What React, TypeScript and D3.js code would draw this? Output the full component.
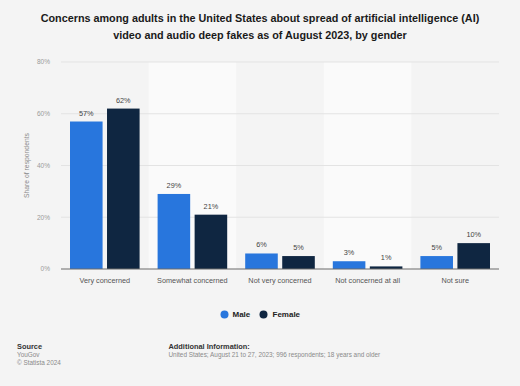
import React from "react"
import * as d3 from "d3"

const W = 520
const H = 386
const MARGIN = { top: 62, right: 21, bottom: 117, left: 61 }

const categories = [
    "Very concerned",
    "Somewhat concerned",
    "Not very concerned",
    "Not concerned at all",
    "Not sure",
]
const series = ["Male", "Female"]
const maleValues = [57, 29, 6, 3, 5]
const femaleValues = [62, 21, 5, 1, 10]
const yTicks = [0, 20, 40, 60, 80]
const colors = ["#2876dd", "#0f2641"]

const FONT = "'Liberation Sans', Arial, sans-serif"

export default function App() {
    const boundsWidth = W - MARGIN.left - MARGIN.right
    const boundsHeight = H - MARGIN.top - MARGIN.bottom

    const xScale = d3
        .scaleBand()
        .domain(categories)
        .range([0, boundsWidth])
        .paddingInner(0)
        .paddingOuter(0)
    const inner = d3
        .scaleBand()
        .domain(series)
        .range([9, xScale.bandwidth() - 9])
        .paddingInner(0.12)
    const yScale = d3.scaleLinear().domain([0, 80]).range([boundsHeight, 0])

    const values = [maleValues, femaleValues]

    return (
        <svg
            width={W}
            height={H}
            style={{ position: "absolute", left: 0, top: 0, background: "#f4f4f4" }}
            fontFamily={FONT}
        >
            <rect width={W} height={H} fill="#f4f4f4" />
            <text x={W / 2} y={21.5} textAnchor="middle" fontSize={10.8} fontWeight="bold" fill="#1a1a1a">
                Concerns among adults in the United States about spread of artificial intelligence (AI)
            </text>
            <text x={W / 2} y={38.5} textAnchor="middle" fontSize={10.8} fontWeight="bold" fill="#1a1a1a">
                video and audio deep fakes as of August 2023, by gender
            </text>

            <g transform={`translate(${MARGIN.left},${MARGIN.top})`}>
                {categories.map((c, i) =>
                    i % 2 === 1 ? (
                        <rect
                            key={c}
                            x={xScale(c)}
                            y={0}
                            width={xScale.bandwidth()}
                            height={boundsHeight}
                            fill="#fafafa"
                        />
                    ) : null
                )}
                {yTicks.map((t) => (
                    <g key={t}>
                        {t > 0 && (
                            <line
                                x1={0}
                                x2={boundsWidth}
                                y1={yScale(t)}
                                y2={yScale(t)}
                                stroke="#e3e3e3"
                                strokeWidth={1}
                            />
                        )}
                        <text
                            x={-11}
                            y={yScale(t)}
                            dy="0.35em"
                            textAnchor="end"
                            fontSize={6.5}
                            fill="#9a9a9a"
                        >
                            {t}%
                        </text>
                    </g>
                ))}
                <text
                    transform={`translate(${-32},${boundsHeight / 2}) rotate(-90)`}
                    textAnchor="middle"
                    fontSize={6.8}
                    fill="#8a8a8a"
                >
                    Share of respondents
                </text>

                {categories.map((c, i) => (
                    <g key={c} transform={`translate(${xScale(c)},0)`}>
                        {series.map((s, j) => {
                            const v = values[j][i]
                            return (
                                <g key={s}>
                                    <rect
                                        x={inner(s)}
                                        y={yScale(v)}
                                        width={inner.bandwidth()}
                                        height={boundsHeight - yScale(v)}
                                        fill={colors[j]}
                                    />
                                    <text
                                        x={(inner(s) || 0) + inner.bandwidth() / 2}
                                        y={yScale(v) - 6}
                                        textAnchor="middle"
                                        fontSize={7.3}
                                        fill="#444"
                                    >
                                        {v}%
                                    </text>
                                </g>
                            )
                        })}
                        <text
                            x={xScale.bandwidth() / 2}
                            y={boundsHeight + 14}
                            textAnchor="middle"
                            fontSize={7.3}
                            fill="#555"
                        >
                            {c}
                        </text>
                    </g>
                ))}
                <line
                    x1={0}
                    x2={boundsWidth}
                    y1={boundsHeight}
                    y2={boundsHeight}
                    stroke="#6b6b6b"
                    strokeWidth={1}
                />
            </g>

            <g transform="translate(0,314.5)">
                <circle cx={224.5} cy={0} r={4} fill={colors[0]} />
                <text x={232.5} y={0} dy="0.35em" fontSize={8} fontWeight="bold" fill="#222">
                    Male
                </text>
                <circle cx={263.5} cy={0} r={4} fill={colors[1]} />
                <text x={272.5} y={0} dy="0.35em" fontSize={8} fontWeight="bold" fill="#222">
                    Female
                </text>
            </g>

            <text x={17} y={348.5} fontSize={7.4} fontWeight="bold" fill="#333">
                Source
            </text>
            <text x={17} y={356.7} fontSize={6.4} fill="#8a8a8a">
                YouGov
            </text>
            <text x={17} y={364.5} fontSize={6.4} fill="#8a8a8a">
                © Statista 2024
            </text>
            <text x={168.5} y={348.5} fontSize={7.4} fontWeight="bold" fill="#333">
                Additional Information:
            </text>
            <text x={168.5} y={356.7} fontSize={6.4} fill="#8a8a8a">
                United States; August 21 to 27, 2023; 996 respondents; 18 years and older
            </text>
        </svg>
    )
}
